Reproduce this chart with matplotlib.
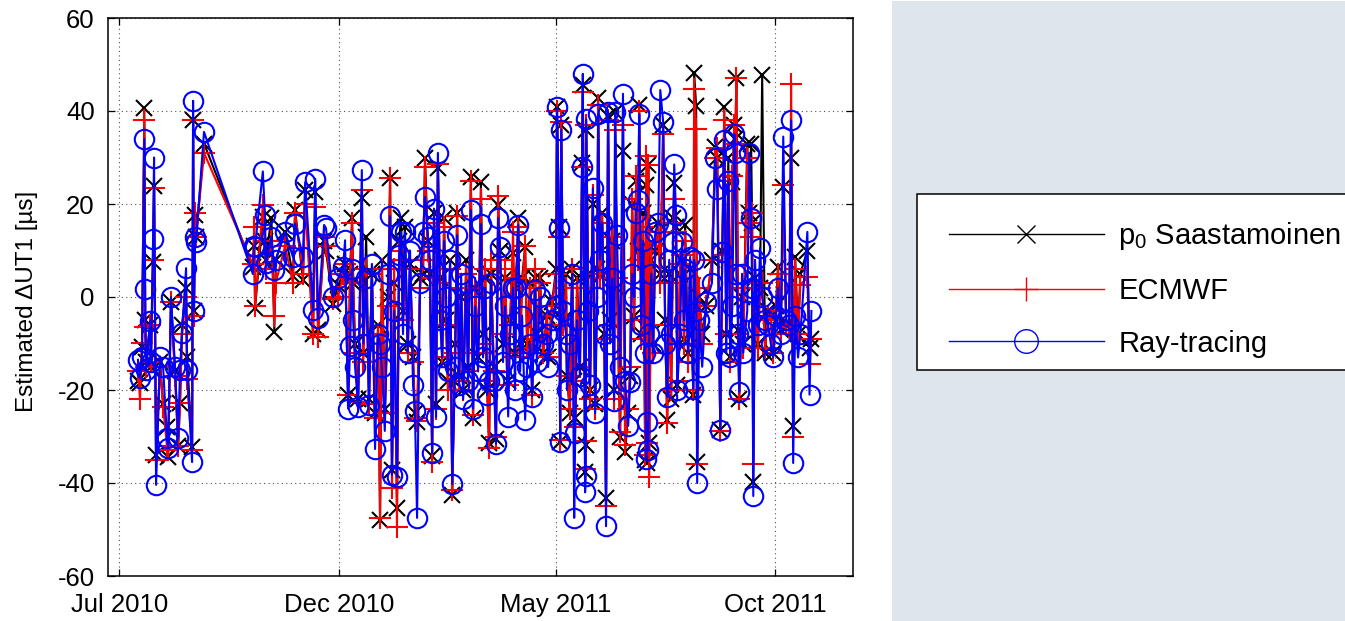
import pandas as pd
import matplotlib
matplotlib.use("Agg")
import matplotlib.pyplot as plt
import matplotlib.dates as mdates
from matplotlib.lines import Line2D
from matplotlib.patches import Rectangle

plt.rcParams['font.family'] = ['Liberation Sans', 'DejaVu Sans']
plt.rcParams['mathtext.default'] = 'regular'
plt.rcParams['axes.unicode_minus'] = False

start_date = "2010-07-01"
tick_dates = ["2010-07-01", "2010-12-01", "2011-05-01", "2011-10-01"]
y_ticks = [-60, -40, -20, 0, 20, 40, 60]

# session epochs, days after start_date
days = [
    13.0, 14.4, 15.8, 17.4, 18, 18.6, 21.4, 22, 23.5, 24.2,
    25.6, 28.4, 30.5, 33.2, 34, 36, 38.8, 41, 42.3, 43.7,
    46.5, 47.2, 50.7, 51.4, 52, 52.8, 53.5, 59, 93, 94,
    94.6, 100, 101.5, 102, 106, 108, 109, 115.5, 121, 122.5,
    128, 129.5, 135, 136.5, 138.5, 142.7, 144, 149, 152.5, 156,
    157.3, 159.4, 160.8, 162.2, 163, 164.3, 166.4, 169, 170, 172,
    174, 176, 178.2, 180.3, 181.7, 183, 185, 187.3, 188.7, 190,
    191.5, 193.5, 195, 196.3, 197.7, 199, 201, 202.6, 204.7, 206,
    207.5, 209.6, 211.7, 213, 215, 216.5, 218, 219.3, 220.7, 222,
    223.5, 225, 226.3, 227.7, 229, 230.5, 232, 234, 235.4, 236.8,
    238.2, 239.6, 241.7, 243, 245, 246.5, 248, 250, 252, 253.5,
    255, 256.3, 257.7, 259, 261, 262.5, 264, 265.3, 267.4, 268.8,
    271, 272.3, 274.4, 275.8, 276.5, 278, 279.3, 280.7, 282.8, 284.2,
    286.3, 287.7, 289.7, 291, 293.2, 295.3, 298, 298.8, 301.6, 304.4,
    305, 306.5, 307.2, 308, 309.3, 311.3, 312, 314, 315.6, 317,
    317.7, 319, 321, 322.5, 323, 324.6, 325, 325.4, 326.7, 328,
    330, 331.6, 333, 333.7, 335, 336.5, 338, 339.2, 340.6, 342,
    343.4, 344.8, 345.5, 346.8, 349, 351, 352.5, 354.6, 356, 357.4,
    358.8, 360.2, 361.6, 362.3, 363.7, 365, 366.5, 367.2, 368, 368.6,
    369.3, 370.7, 372, 373.5, 375.6, 377, 379, 380.4, 381.8, 383.2,
    384.6, 386, 386.7, 388, 388.8, 390.8, 392.2, 393.6, 394.3, 396.4,
    397.8, 400, 400.6, 402, 402.7, 404, 406.2, 409, 413, 415.3,
    416.7, 418.8, 420.2, 421.6, 423, 424.4, 425.8, 427.2, 428.6, 429.3,
    430, 431.3, 432, 434, 434.8, 437.6, 439, 440.3, 441, 441.8,
    443, 445, 446.5, 448, 450, 452, 454, 455.6, 457.6, 459,
    461, 462.7, 464.7, 466.8, 468.2, 469.6, 471, 473, 474.6, 479.5,
    481, 482.3,
]

p0_saastamoinen = [
    -18, -18.5, -10.7, 40.6, -5, -14, -6, -15, 7.5, 23.8,
    -34, -14, -23, -28, -34.4, -1, -16, -32, -22.8, -6,
    2, -13, -32.3, 38, -3, 17.6, 13, 33, 6.5, 11,
    -2.4, 17.2, 12, 8, 17, -7.5, 8, 14, 4.5, 18.7,
    3.6, 23, -8, 22.6, -7, 12, 10, -1.5, 2.5, 5,
    7, -21, 5, 17, 3, -10, -22, 21.3, -12, 13,
    -22, 5, -25, -6, -48, 8, -24, 0, 25.6, -37.2,
    3, -45.3, 12, 17, -3, 15, -10, 7, -13, -25,
    -26.8, 4, 5, 30, 12, 5, -34.3, 18, -23, 27.7,
    4, -14, 17, -5, -18, 8, -42.6, -10, 18, -17,
    0, -20, 8, -15, 25.8, -26, 2, -13, 24.7, -8,
    4, -20, -31.5, 5, -15, -30.5, 19.8, 10, -10, 4,
    -18, -5, 9.4, -12, 2, 17, -10, 4, 10.8, -10,
    3, -20, 4, -8, 4, -12, -4, -13, -1, 6,
    40.8, 15, -31.2, 37, -5, 5, -17, -25, 6, -18,
    -26, 4, -15, 28.8, 45.6, -37.6, -31.8, 36, 5, -20,
    20, -23, 6, 42.8, 5, 18, -8, -43.2, 39, -5,
    12, -20, 39.8, 2, -30, 31.4, -33.3, -25, -17, 20,
    -4, 25, 10, 41.3, -8, 18, -35, 24, -35.7, 28.4,
    -31.5, 8, -10, 10, 16, 5, 37, -5, -26.5, 5,
    -22, 17, 24.5, 15, -19, 5, 8, -9, 15.5, -12,
    6, -21, 48.2, 41, -35.5, 0, -8, -2, 8, 32.3,
    30, -28.6, 10, 40.9, -8, 30, -13, 24.7, 37, 34,
    47, -7, -22, 0, -10, 33, 18, 33, 16, -39.8,
    4, -10, 2, 47.8, -12, -3, -4, -12, -2, 6.5,
    -7, 23.7, -6, -6, 30, -27.7, 8.6, -8, 5, 10,
    -11, -9,
]

ecmwf = [
    -16, -22, -9.8, 38, -6.5, -15, -6, -14, 8, 23.5,
    -35, -15, -23.6, -32, -33, -1, -17, -32, -22.8, -8,
    0, -17.6, -33, 38, -4, 18, 13, 31, 7, 15,
    -2, 19.8, 12, 6, 12, -4, 3, 11, 3, 18,
    5, 20, -8, 19.4, -8.5, 13, 11, -0.5, 0, 5,
    7, -21, 4, 16, 3, -12, -22.5, 23, -14, 6,
    -23, 5, -26, -8, -47.6, 6, -25, -2, 25.5, -41,
    6, -49.5, 10, 8, -5, 8, -12, 6, -14, -26,
    -26.7, 2, 8, 28, 10, 4, -35.5, 16, -24, 28.5,
    3, -13, 15, -6, -20, 6, -41.5, -12, 17.5, -18,
    2, -20, 5, -16, 25, -25.4, 2, -12, 21, -10,
    6, -18, -32.4, 8, -16, -30, 21.7, 8, -8, 6,
    -19, -6, 14, -13, 4, 15, -12, 2, 11, -11,
    2, -21, 6, -9, 3, -12, -4, -13, -2, 5,
    40, 13, -30.7, 37.7, -6, 2, -17, -24, 6, -18,
    -28, 2, -15, 28, 44, -37, -31, 37, 2, -22,
    22, -24, 5, 41.3, 4, 16, -9, -45, 38, -6,
    13, -22, 36, 4, -29, 37, -31.8, -24, -15, 21,
    -5, 26, 8, 40, -9, 15, -34, 30.3, -31.5, 28.4,
    -38.7, 10, -12, 11, 14, 3, 35, -6, -27, 3,
    -20, 16, 21, 14, -18, 7, 9, -10, 12, -14,
    4, -20, 44.7, 36.1, -36, 2, -10, -2, 8, 30,
    32, -28.8, 9, 38, -8, 25, -14, 26, 37, 33,
    47, -8, -22, 2, -11, 30, 16, 13, 18, -36,
    3, -11, 2, 3, -11, -4, -5, -12, -3, 5,
    -8, 24, -6, -6.5, 45.8, -30, 6, -8, 2.6, 4.3,
    -14.4, -9,
]

ray_tracing = [
    -13.5, -17.4, -13, 34, 1.7, -15.7, -5.2, -14, 12.4, 30,
    -40.4, -12.8, -15, -30.4, -32.4, 0, -15, -30.4, -15.7, -7.7,
    6.2, -15.6, -35.5, 42.2, -3, 13, 11.8, 35.5, 5, 11,
    10.8, 27, 17.6, 7.3, 13, 5.8, 8, 14, 8.6, 15.8,
    8.6, 24.7, -2.8, 25.4, -4.5, 15.5, 14.8, 0, 4, 6.5,
    12.2, -24, -10.6, 6, -5, -15, -23.6, 27.3, -10, 4,
    -23.2, 7, -32.7, -8, -10, -15, -28.8, 5, 17.4, -38.3,
    -3, -38.7, 9, 14, -8, 14, -12, 10, -19, -24.5,
    -47.5, 3, 14, 21.5, 13, 8, -33.6, 19, -25.8, 31,
    -5, -13, 12, 0, -16, 8, -40.2, -15, 13.3, -19,
    5, -22, 3, -18, 18.7, -24, -2, -16, 15.7, -13,
    2, -21, -18, 3, -18, -31.6, 17, 10.8, -14, -2,
    -25.7, -8, 2, -20, 2, 15.5, -16, -4, -26.4, -15,
    -10, -21.4, 1.5, -14, 0, -10, -8, -15, -5, -2,
    40.8, 14.8, -31.2, 36, -3, -8, -20, -10, 5, -47.5,
    -29.3, -5, -17, 28, 48, -42, -38.5, 38.2, -3, -19,
    23.4, -25, 0, 39.3, 8, 16, -8, -49.3, 39.8, -10,
    4, -22.3, 39.8, 13.3, -15, 43.7, -18, -27.7, -18.3, 5,
    0, 18, 20.9, 39.3, -6, 12, -12, -34.8, -26.8, -33,
    -8, 5, -12, 14, 16, 44.5, 37.7, -10, -21.5, 8,
    -8, 11.8, 28.5, 17.6, -20, -8, 11.8, -5, 6, -12,
    8.6, -19.7, 8, -3, -40, -5, -15, -1, 3, 30,
    23.2, -28.6, 9.6, 33.8, -12, 25, -13, -2, 35, 31,
    5, -8, -20.4, 5, -12, -3, 31, 17, 2, -42.8,
    8, -6, 10.5, 0, -5, -6, -10, -13, -4, 2,
    -8, 34.5, -5, -6, 38, -35.7, -4, -13, -8, 14,
    -21, -3,
]

fig = plt.figure(figsize=(13.45, 6.21), dpi=100)
fig.add_artist(Rectangle((892 / 1345, 0), 453 / 1345, 620 / 621, transform=fig.transFigure,
                         facecolor='#dee6ec', edgecolor='none', zorder=-1))
# legend frame runs off the right edge of the picture
fig.add_artist(Rectangle((917 / 1345, 1 - 370 / 621), 440 / 1345, 176 / 621, transform=fig.transFigure,
                         facecolor='white', edgecolor='black', linewidth=1.1, zorder=-0.5))

ax = fig.add_axes([108 / 1345, 45 / 621, 745 / 1345, 558 / 621])
x = pd.Timestamp(start_date) + pd.to_timedelta(days, unit='D')

ax.plot(x, p0_saastamoinen, color='black', lw=1.5, marker='x', ms=11, mew=1.5)
ax.plot(x, ecmwf, color='red', lw=1.5, marker='+', ms=15.5, mew=1.5)
ax.plot(x, ray_tracing, color='blue', lw=1.5, marker='o', ms=14, mew=1.5, mfc='none')

ax.set_ylim(-60, 60)
ax.set_xlim(pd.Timestamp(start_date) - pd.Timedelta(days=7.9), pd.Timestamp(start_date) + pd.Timedelta(days=511.3))
ax.set_yticks(y_ticks)
ax.set_xticks(pd.to_datetime(tick_dates))
ax.xaxis.set_major_formatter(mdates.DateFormatter('%b %Y'))
ax.tick_params(direction='in', length=5, width=0.9, top=True, right=True, labelsize=18.5)
ax.tick_params(axis='x', pad=12)
ax.tick_params(axis='y', pad=9.5)
ax.grid(True, color='#505050', linestyle=(0, (1, 3)), linewidth=0.8)
ax.set_axisbelow(True)
for spine in ax.spines.values():
    spine.set_linewidth(1.1)
ax.set_ylabel('Estimated ΔUT1 [µs]', fontsize=17.5)
ax.yaxis.set_label_coords(-0.094, 0.493)

handles = [
    Line2D([], [], color='black', lw=1.0, marker='x', ms=13, mew=1.0),
    Line2D([], [], color='red', lw=1.0, marker='+', ms=17, mew=1.0),
    Line2D([], [], color='blue', lw=1.0, marker='o', ms=17, mew=1.0, mfc='none'),
]
labels = ['p$_0$ Saastamoinen', 'ECMWF', 'Ray-tracing']
ax.legend(handles, labels, loc='upper left', bbox_to_anchor=(949 / 1345, 1 - 220 / 621),
          bbox_transform=fig.transFigure, borderaxespad=0, fontsize=21, numpoints=1,
          frameon=False, handlelength=5.3, handletextpad=0.5, borderpad=0, labelspacing=0.85)

plt.savefig('out.png', dpi=100)
plt.close()
